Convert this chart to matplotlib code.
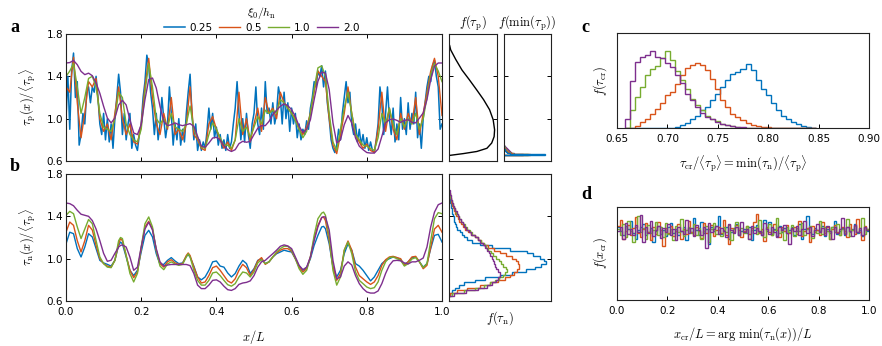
import numpy as np
import matplotlib
matplotlib.use("Agg")
import matplotlib.pyplot as plt

plt.rcParams["mathtext.fontset"] = "cm"
plt.rcParams["font.family"] = "DejaVu Sans"
plt.rcParams["font.size"] = 7.5

colors = ["#0072BD", "#D95319", "#77AC30", "#7E2F8E"]
xi_labels = ["0.25", "0.5", "1.0", "2.0"]

# ---- panel a: tau_p(x)/<tau_p>
x_a_fine = np.linspace(0, 1, 201)
x_a = np.linspace(0, 1, 101)
a_blue = [1.00, 1.40, 0.90, 1.45, 1.62, 1.20, 1.35, 0.75, 0.85, 1.05,
          0.95, 1.25, 1.30, 1.15, 1.30, 1.25, 1.40, 1.20, 0.95, 0.85,
          1.05, 0.80, 1.00, 0.78, 0.95, 0.72, 1.00, 1.20, 1.42, 1.25,
          0.85, 1.05, 0.80, 0.95, 1.05, 0.72, 0.85, 0.75, 0.70, 0.85,
          0.95, 1.20, 1.35, 1.60, 1.50, 1.25, 1.10, 0.85, 1.05, 0.80,
          0.95, 1.20, 1.00, 0.82, 0.95, 1.30, 1.05, 0.75, 0.95, 0.80,
          1.00, 0.75, 0.90, 0.78, 1.05, 1.25, 1.42, 1.05, 0.80, 0.95,
          0.70, 0.80, 0.70, 0.78, 0.72, 0.88, 1.10, 0.90, 1.05, 0.82,
          0.92, 0.75, 0.85, 0.72, 0.80, 0.70, 0.85, 0.72, 0.78, 0.95,
          1.10, 1.35, 1.05, 0.80, 1.00, 0.78, 1.05, 0.85, 0.72, 0.95,
          1.05, 1.30, 0.95, 0.85, 1.10, 0.90, 1.35, 1.05, 1.10, 0.95,
          1.15, 0.95, 1.05, 1.30, 1.20, 0.95, 1.25, 1.00, 1.15, 0.88,
          1.10, 0.95, 1.05, 0.82, 0.95, 0.80, 0.90, 0.85, 0.98, 0.90,
          1.10, 1.20, 1.35, 1.30, 1.45, 1.40, 1.50, 1.30, 1.45, 1.15,
          1.00, 0.80, 0.72, 0.68, 0.75, 0.90, 0.80, 1.05, 1.20, 1.35,
          1.15, 1.25, 0.95, 0.85, 0.95, 0.78, 0.90, 0.75, 0.85, 0.72,
          0.82, 0.70, 0.78, 0.70, 0.68, 0.80, 0.95, 1.30, 1.15, 0.85,
          1.05, 1.30, 1.00, 0.85, 1.10, 0.78, 0.95, 0.80, 1.20, 0.90,
          1.00, 0.85, 1.15, 0.90, 1.05, 0.95, 1.25, 0.82, 0.95, 0.72,
          1.00, 1.15, 1.30, 1.40, 1.35, 1.50, 1.55, 1.40, 1.30, 0.90,
          0.95]
a_orange = [1.30, 1.25, 1.58, 1.15, 0.82, 1.05, 1.35, 1.30, 1.38, 1.00,
            0.88, 0.95, 0.80, 1.05, 1.30, 1.00, 0.85, 0.95, 0.78, 0.76,
            0.95, 1.30, 1.57, 1.20, 0.95, 0.85, 1.05, 0.90, 1.20, 0.85,
            0.90, 0.80, 0.95, 1.30, 0.85, 0.80, 0.72, 0.70, 0.95, 1.02,
            0.90, 0.80, 0.72, 0.78, 0.70, 0.80, 1.25, 0.85, 1.00, 0.78,
            0.95, 1.10, 0.88, 1.20, 1.05, 1.10, 1.00, 1.25, 1.15, 1.10,
            1.05, 1.00, 0.90, 0.85, 0.92, 1.05, 1.25, 1.45, 1.40, 1.35,
            1.00, 0.75, 0.67, 0.85, 1.05, 1.30, 1.05, 0.85, 0.78, 0.72,
            0.76, 0.70, 0.68, 0.90, 1.25, 0.88, 1.10, 0.90, 0.80, 1.05,
            0.90, 1.05, 0.95, 1.20, 0.85, 1.05, 1.25, 1.45, 1.57, 1.40,
            1.03]
a_green = [1.40, 1.45, 1.52, 1.30, 1.05, 1.20, 1.38, 1.40, 1.30, 1.05,
           0.92, 0.90, 0.88, 1.00, 1.25, 1.20, 0.95, 0.85, 0.80, 0.78,
           0.90, 1.25, 1.52, 1.30, 1.00, 0.95, 1.00, 0.92, 1.05, 0.92,
           0.90, 0.88, 0.95, 1.12, 0.90, 0.82, 0.73, 0.72, 0.85, 0.96,
           0.90, 0.82, 0.75, 0.75, 0.72, 0.80, 1.00, 0.88, 0.92, 0.82,
           0.92, 1.02, 0.95, 1.08, 1.05, 1.08, 1.05, 1.18, 1.15, 1.10,
           1.05, 0.98, 0.90, 0.82, 0.88, 1.05, 1.28, 1.48, 1.50, 1.40,
           1.05, 0.78, 0.70, 0.90, 1.10, 1.25, 1.05, 0.85, 0.80, 0.75,
           0.74, 0.72, 0.70, 0.82, 1.05, 0.95, 1.10, 0.95, 0.85, 1.00,
           0.92, 1.00, 0.95, 1.05, 0.90, 1.00, 1.20, 1.42, 1.52, 1.45,
           1.35]
a_purple = [1.526, 1.53, 1.55, 1.51, 1.447, 1.416, 1.43, 1.406, 1.337, 1.24,
            1.117, 1.006, 0.96, 1.006, 1.13, 1.173, 1.13, 0.99, 0.865, 0.85,
            0.943, 1.18, 1.37, 1.384, 1.29, 1.117, 0.975, 0.934, 0.943, 0.96,
            0.943, 0.934, 0.943, 0.953, 0.928, 0.833, 0.74, 0.73, 0.77, 0.817,
            0.824, 0.80, 0.745, 0.707, 0.69, 0.707, 0.764, 0.786, 0.777, 0.786,
            0.85, 0.91, 0.934, 0.934, 0.975, 1.04, 1.08, 1.117, 1.14, 1.123,
            1.085, 1.02, 0.928, 0.87, 0.90, 0.99, 1.18, 1.353, 1.44, 1.43,
            1.274, 0.96, 0.77, 0.80, 0.943, 1.03, 0.96, 0.817, 0.74, 0.707,
            0.68, 0.675, 0.675, 0.713, 0.833, 0.96, 0.99, 0.997, 0.984, 0.965,
            0.984, 0.99, 0.965, 0.96, 1.006, 1.054, 1.18, 1.37, 1.495, 1.526,
            1.526]

# ---- panel b: tau_n(x)/<tau_p>
x_b = np.sort(np.r_[np.linspace(0, 1, 101), 0.145, 0.325, 0.685])
b_blue = [1.14, 1.25, 1.236, 1.095, 1.016, 1.11, 1.236, 1.205, 1.095, 0.984,
          0.96, 0.946, 0.93, 0.984, 1.126, 1.157, 1.14, 1.016, 0.89, 0.84, 0.89,
          1.063, 1.22, 1.268, 1.205, 1.047, 0.946, 0.946, 0.984, 1.01, 0.978,
          0.953, 0.96, 1.022, 1.038, 1.016, 0.93, 0.827, 0.80, 0.827, 0.89, 0.97,
          0.978, 0.93, 0.92, 0.865, 0.827, 0.86, 0.93, 0.984, 0.953, 0.86,
          0.905, 0.984, 1.0, 0.953, 0.97, 1.016, 1.047, 1.063, 1.08, 1.07,
          1.063, 1.0, 0.93, 0.89, 0.915, 1.0, 1.126, 1.22, 1.30, 1.305, 1.283,
          1.14, 0.92, 0.827, 0.89, 1.047, 1.14, 1.08, 0.953, 0.93, 0.89,
          0.84, 0.79, 0.827, 0.89, 0.953, 0.984, 1.0, 1.016, 1.01, 0.99,
          0.946, 0.97, 1.01, 1.016, 0.97, 0.92, 0.953, 1.095, 1.22, 1.23, 1.157]
b_orange = [1.25, 1.346, 1.315, 1.17, 1.063, 1.17, 1.315, 1.27, 1.126, 1.0,
            0.953, 0.93, 0.92, 0.984, 1.14, 1.19, 1.17, 1.03, 0.89, 0.82, 0.874,
            1.095, 1.30, 1.353, 1.283, 1.08, 0.953, 0.92, 0.97, 0.99, 0.96,
            0.946, 0.953, 1.03, 1.054, 1.03, 0.92, 0.827, 0.77, 0.78, 0.84, 0.915,
            0.93, 0.89, 0.84, 0.79, 0.77, 0.81, 0.89, 0.946, 0.915, 0.84,
            0.896, 0.978, 1.01, 0.946, 0.97, 1.016, 1.054, 1.08, 1.095, 1.095,
            1.07, 1.0, 0.92, 0.874, 0.905, 1.016, 1.19, 1.315, 1.387, 1.394, 1.36,
            1.17, 0.92, 0.795, 0.86, 1.08, 1.167, 1.08, 0.92, 0.84, 0.81,
            0.78, 0.757, 0.78, 0.84, 0.937, 0.99, 1.016, 1.022, 1.01, 1.0,
            0.937, 0.97, 1.016, 1.022, 0.97, 0.905, 0.937, 1.11, 1.28, 1.315, 1.25]
b_green = [1.41, 1.447, 1.425, 1.30, 1.19, 1.28, 1.37, 1.33, 1.17, 1.016,
           0.953, 0.92, 0.915, 0.984, 1.17, 1.20, 1.19, 1.03, 0.86, 0.78, 0.86,
           1.11, 1.33, 1.394, 1.30, 1.08, 0.93, 0.896, 0.95, 0.97, 0.95,
           0.937, 0.946, 1.016, 1.047, 1.016, 0.89, 0.795, 0.75, 0.75, 0.795, 0.865,
           0.874, 0.84, 0.795, 0.754, 0.74, 0.764, 0.827, 0.874, 0.865, 0.827,
           0.874, 0.96, 0.99, 0.953, 0.97, 1.016, 1.063, 1.095, 1.117, 1.117,
           1.08, 1.0, 0.905, 0.852, 0.89, 1.016, 1.22, 1.378, 1.43, 1.44, 1.41,
           1.205, 0.89, 0.75, 0.827, 1.08, 1.157, 1.047, 0.874, 0.795, 0.764,
           0.732, 0.717, 0.726, 0.78, 0.89, 0.97, 1.01, 1.016, 1.0, 0.984,
           0.93, 0.953, 0.997, 1.01, 0.97, 0.915, 0.953, 1.17, 1.378, 1.435, 1.425]
b_purple = [1.526, 1.52, 1.50, 1.457, 1.42, 1.41, 1.40, 1.36, 1.28, 1.17,
            1.05, 0.975, 0.985, 1.05, 1.11, 1.125, 1.13, 1.11, 1.015, 0.89, 0.92,
            1.11, 1.28, 1.345, 1.27, 1.095, 0.97, 0.93, 0.94, 0.945, 0.945,
            0.945, 0.945, 0.945, 0.94, 0.934, 0.86, 0.75, 0.717, 0.717, 0.75, 0.795,
            0.80, 0.78, 0.74, 0.707, 0.70, 0.717, 0.757, 0.77, 0.776, 0.79,
            0.84, 0.92, 0.97, 0.984, 1.016, 1.047, 1.08, 1.117, 1.13, 1.12,
            1.095, 1.016, 0.937, 0.896, 0.92, 1.016, 1.17, 1.30, 1.39, 1.395, 1.394,
            1.27, 0.984, 0.81, 0.827, 0.93, 0.97, 0.94, 0.84, 0.764, 0.717,
            0.685, 0.675, 0.675, 0.695, 0.764, 0.86, 0.937, 0.98, 0.984, 0.98,
            0.96, 0.95, 0.97, 0.97, 0.985, 1.006, 1.11, 1.30, 1.44, 1.51, 1.526]

# ---- marginal: f(tau_p)
ftp_tau = [0.653, 0.67, 0.69, 0.72, 0.77, 0.83, 0.895, 0.99, 1.085, 1.18,
           1.27, 1.37, 1.46, 1.56, 1.65, 1.69]
ftp_f = [0.014, 0.30, 0.58, 0.79, 0.89, 0.94, 0.95, 0.92, 0.845, 0.72,
         0.58, 0.42, 0.27, 0.14, 0.035, 0.014]

# ---- marginal: f(min(tau_p))
fmin_edges = np.arange(0.655, 0.7551, 0.01)
fmin_blue = [0.87, 0.12, 0.06, 0.04, 0.03, 0.02, 0.01, 0.005, 0.0, 0.0]
fmin_orange = [0.55, 0.18, 0.10, 0.07, 0.05, 0.03, 0.02, 0.01, 0.005, 0.0]
fmin_green = [0.50, 0.20, 0.12, 0.09, 0.07, 0.05, 0.03, 0.02, 0.01, 0.0]
fmin_purple = [0.40, 0.22, 0.15, 0.12, 0.10, 0.08, 0.06, 0.04, 0.02, 0.01]

# ---- marginal: f(tau_n)
ftn_edges = np.arange(0.65, 1.6501, 0.025)
ftn_blue = [0.01, 0.03, 0.06, 0.10, 0.15, 0.25, 0.35, 0.50, 0.62, 0.75,
            0.84, 0.90, 0.95, 0.93, 0.89, 0.82, 0.76, 0.60, 0.42, 0.30,
            0.23, 0.18, 0.15, 0.13, 0.11, 0.08, 0.07, 0.06, 0.05, 0.045,
            0.04, 0.03, 0.025, 0.02, 0.015, 0.01, 0.008, 0.005, 0.003, 0.001]
ftn_orange = [0.01, 0.08, 0.18, 0.30, 0.40, 0.48, 0.55, 0.60, 0.64, 0.67,
              0.69, 0.69, 0.68, 0.66, 0.62, 0.56, 0.50, 0.44, 0.38, 0.34,
              0.31, 0.28, 0.25, 0.22, 0.19, 0.16, 0.14, 0.12, 0.10, 0.085,
              0.07, 0.06, 0.05, 0.04, 0.03, 0.02, 0.015, 0.01, 0.005, 0.002]
ftn_green = [0.03, 0.15, 0.25, 0.34, 0.40, 0.45, 0.49, 0.53, 0.55, 0.57,
             0.56, 0.53, 0.51, 0.49, 0.46, 0.43, 0.41, 0.38, 0.36, 0.34,
             0.31, 0.28, 0.25, 0.23, 0.21, 0.18, 0.16, 0.14, 0.12, 0.10,
             0.09, 0.07, 0.06, 0.05, 0.04, 0.03, 0.02, 0.01, 0.005, 0.002]
ftn_purple = [0.05, 0.17, 0.28, 0.37, 0.42, 0.46, 0.48, 0.50, 0.50, 0.48,
              0.46, 0.45, 0.44, 0.43, 0.42, 0.40, 0.39, 0.37, 0.35, 0.33,
              0.30, 0.28, 0.25, 0.22, 0.20, 0.17, 0.15, 0.14, 0.12, 0.10,
              0.09, 0.08, 0.06, 0.05, 0.04, 0.03, 0.02, 0.015, 0.01, 0.005]

# ---- panel c: f(tau_cr)
c_edges = np.arange(0.6575, 0.8476, 0.005)
c_blue = [0, 0, 0, 0, 0, 0, 0, 0, 0.003, 0.005,
          0.01, 0.03, 0.05, 0.10, 0.13, 0.19, 0.22, 0.29, 0.36, 0.43,
          0.51, 0.57, 0.59, 0.62, 0.67, 0.61, 0.51, 0.41, 0.35, 0.26,
          0.19, 0.13, 0.10, 0.06, 0.04, 0.02, 0.01, 0.003]
c_orange = [0, 0.005, 0.02, 0.06, 0.10, 0.15, 0.20, 0.26, 0.35, 0.38,
            0.46, 0.56, 0.63, 0.66, 0.68, 0.66, 0.61, 0.52, 0.41, 0.30,
            0.22, 0.15, 0.12, 0.08, 0.05, 0.03, 0.02, 0.015, 0.01, 0.005,
            0, 0, 0, 0, 0, 0, 0, 0]
c_green = [0.0, 0.19, 0.33, 0.43, 0.56, 0.62, 0.65, 0.74, 0.81, 0.72,
           0.60, 0.51, 0.41, 0.31, 0.24, 0.19, 0.13, 0.10, 0.07, 0.04,
           0.03, 0.02, 0.01, 0.005, 0.003, 0, 0, 0, 0, 0,
           0, 0, 0, 0, 0, 0, 0, 0]
c_purple = [0.10, 0.50, 0.70, 0.75, 0.77, 0.81, 0.75, 0.74, 0.68, 0.64,
            0.56, 0.47, 0.36, 0.30, 0.22, 0.16, 0.12, 0.09, 0.06, 0.04,
            0.03, 0.02, 0.01, 0.008, 0.005, 0, 0, 0, 0, 0,
            0, 0, 0, 0, 0, 0, 0, 0]

# ---- panel d: f(x_cr)
d_edges = np.linspace(0, 1, 101)
d_blue = [0.78, 0.74, 0.70, 0.80, 0.76, 0.85, 0.72, 0.66, 0.75, 0.79,
          0.82, 0.70, 0.73, 0.77, 0.62, 0.74, 0.80, 0.71, 0.75, 0.69,
          0.78, 0.83, 0.72, 0.76, 0.70, 0.74, 0.79, 0.64, 0.77, 0.73,
          0.88, 0.75, 0.70, 0.84, 0.72, 0.76, 0.60, 0.78, 0.74, 0.80,
          0.90, 0.71, 0.75, 0.79, 0.66, 0.73, 0.77, 0.82, 0.70, 0.74,
          0.76, 0.72, 0.79, 0.64, 0.75, 0.81, 0.73, 0.70, 0.86, 0.74,
          0.84, 0.71, 0.76, 0.69, 0.80, 0.73, 0.77, 0.72, 0.75, 0.78,
          0.70, 0.74, 0.82, 0.66, 0.76, 0.90, 0.73, 0.71, 0.77, 0.75,
          0.74, 0.80, 0.69, 0.76, 0.72, 0.78, 0.85, 0.71, 0.74, 0.77,
          0.70, 0.79, 0.73, 0.76, 0.82, 0.72, 0.75, 0.69, 0.78, 0.74]
d_orange = [0.80, 0.86, 0.66, 0.74, 0.81, 0.70, 0.77, 0.89, 0.72, 0.68,
            0.76, 0.83, 0.73, 0.64, 0.79, 0.71, 0.84, 0.75, 0.58, 0.77,
            0.72, 0.80, 0.69, 0.74, 0.82, 0.66, 0.76, 0.71, 0.85, 0.73,
            0.70, 0.78, 0.74, 0.67, 0.83, 0.72, 0.76, 0.81, 0.69, 0.75,
            0.79, 0.72, 0.86, 0.70, 0.60, 0.77, 0.73, 0.81, 0.75, 0.68,
            0.74, 0.80, 0.71, 0.77, 0.84, 0.92, 0.72, 0.76, 0.63, 0.79,
            0.73, 0.70, 0.82, 0.75, 0.68, 0.78, 0.74, 0.81, 0.72, 0.76,
            0.79, 0.71, 0.85, 0.69, 0.74, 0.77, 0.62, 0.80, 0.73, 0.75,
            0.70, 0.84, 0.72, 0.78, 0.66, 0.76, 0.81, 0.73, 0.70, 0.79,
            0.74, 0.68, 0.82, 0.75, 0.71, 0.87, 0.73, 0.64, 0.80, 0.76]
d_green = [0.76, 0.70, 0.82, 0.68, 0.85, 0.74, 0.62, 0.79, 0.90, 0.73,
           0.77, 0.66, 0.81, 0.72, 0.75, 0.84, 0.70, 0.78, 0.68, 0.83,
           0.71, 0.76, 0.64, 0.80, 0.73, 0.87, 0.69, 0.75, 0.79, 0.72,
           0.82, 0.70, 0.77, 0.66, 0.74, 0.80, 0.62, 0.76, 0.83, 0.71,
           0.75, 0.69, 0.78, 0.73, 0.81, 0.65, 0.76, 0.84, 0.70, 0.77,
           0.72, 0.80, 0.66, 0.75, 0.79, 0.71, 0.86, 0.73, 0.68, 0.77,
           0.82, 0.70, 0.75, 0.88, 0.72, 0.76, 0.64, 0.79, 0.73, 0.81,
           0.69, 0.77, 0.74, 0.83, 0.70, 0.76, 0.80, 0.67, 0.75, 0.72,
           0.85, 0.71, 0.78, 0.74, 0.66, 0.79, 0.73, 0.82, 0.70, 0.76,
           0.72, 0.87, 0.69, 0.75, 0.80, 0.73, 0.77, 0.88, 0.71, 0.76]
d_purple = [0.74, 0.79, 0.66, 0.83, 0.71, 0.76, 0.70, 0.81, 0.73, 0.91,
            0.62, 0.78, 0.72, 0.85, 0.69, 0.75, 0.80, 0.67, 0.77, 0.73,
            0.82, 0.70, 0.76, 0.64, 0.79, 0.74, 0.71, 0.86, 0.72, 0.77,
            0.69, 0.81, 0.75, 0.70, 0.78, 0.56, 0.83, 0.73, 0.76, 0.80,
            0.71, 0.77, 0.74, 0.68, 0.82, 0.75, 0.72, 0.79, 0.70, 0.84,
            0.73, 0.76, 0.66, 0.80, 0.72, 0.77, 0.74, 0.70, 0.83, 0.76,
            0.71, 0.79, 0.73, 0.68, 0.78, 0.75, 0.81, 0.72, 0.60, 0.77,
            0.74, 0.80, 0.70, 0.76, 0.85, 0.72, 0.78, 0.69, 0.75, 0.82,
            0.73, 0.77, 0.70, 0.80, 0.74, 0.66, 0.79, 0.72, 0.76, 0.88,
            0.71, 0.78, 0.74, 0.69, 0.81, 0.73, 0.77, 0.70, 0.79, 0.75]

fig = plt.figure(figsize=(8.82, 3.46), dpi=100)
W, H = 882.0, 346.0


def box(x0, y0, x1, y1):
    return [x0 / W, 1 - y1 / H, (x1 - x0) / W, (y1 - y0) / H]


ax_a = fig.add_axes(box(66, 34, 442, 161))
ax_b = fig.add_axes(box(66, 174, 442, 301))
ax_tp = fig.add_axes(box(449, 34, 497, 161))
ax_mn = fig.add_axes(box(504, 34, 551, 161))
ax_tn = fig.add_axes(box(449, 174, 551, 301))
ax_c = fig.add_axes(box(617, 33, 869, 128))
ax_d = fig.add_axes(box(617, 207, 869, 300))

for ax in [ax_a, ax_b, ax_tp, ax_mn, ax_tn, ax_c, ax_d]:
    for s in ax.spines.values():
        s.set_linewidth(0.8)
        s.set_color("#222222")
    ax.tick_params(direction="in", length=3, width=0.7, labelsize=7.5, pad=2)
    ax.tick_params(axis="x", pad=4)

# panel a
ax_a.plot(x_a_fine, a_blue, color=colors[0], lw=1.1, label=xi_labels[0])
ax_a.plot(x_a, a_orange, color=colors[1], lw=1.0, label=xi_labels[1])
ax_a.plot(x_a, a_green, color=colors[2], lw=1.0, label=xi_labels[2])
ax_a.plot(x_a, a_purple, color=colors[3], lw=1.0, label=xi_labels[3])
leg = ax_a.legend(ncol=4, loc="lower center", bbox_to_anchor=(0.52, 0.96),
                  frameon=False, title=r"$\xi_0/h_\mathrm{n}$", fontsize=7.5,
                  title_fontsize=8.5, handlelength=2.0, handletextpad=0.5,
                  columnspacing=0.6, borderpad=0.1, labelspacing=0.2)

# panel b
for vals, c in zip([b_blue, b_orange, b_green, b_purple], colors):
    ax_b.plot(x_b, vals, color=c, lw=1.0)

for ax in [ax_a, ax_b]:
    ax.set_xlim(0, 1)
    ax.set_ylim(0.6, 1.8)
    ax.set_yticks([0.6, 1.0, 1.4, 1.8])
    ax.set_yticklabels(["0.6", "1.0", "1.4", "1.8"])
    ax.set_xticks([0, 0.2, 0.4, 0.6, 0.8, 1.0])
    ax.tick_params(top=True, right=True)
ax_a.set_xticklabels([])
ax_b.set_xticklabels(["0.0", "0.2", "0.4", "0.6", "0.8", "1.0"])
ax_a.set_ylabel(r"$\tau_\mathrm{p}(x)/\langle\tau_\mathrm{p}\rangle$", fontsize=9, labelpad=6)
ax_b.set_ylabel(r"$\tau_\mathrm{n}(x)/\langle\tau_\mathrm{p}\rangle$", fontsize=9, labelpad=6)
ax_b.set_xlabel(r"$x/L$", fontsize=9, labelpad=8)

# marginals
ax_tp.plot(ftp_f, ftp_tau, color="k", lw=1.0)
ax_mn.stairs(fmin_purple, fmin_edges, orientation="horizontal", color=colors[3], lw=1.0)
ax_mn.stairs(fmin_green, fmin_edges, orientation="horizontal", color=colors[2], lw=1.0)
ax_mn.stairs(fmin_orange, fmin_edges, orientation="horizontal", color=colors[1], lw=1.0)
ax_mn.stairs(fmin_blue, fmin_edges, orientation="horizontal", color=colors[0], lw=1.0)
for vals, c in zip([ftn_blue, ftn_orange, ftn_green, ftn_purple], colors):
    ax_tn.stairs(vals, ftn_edges, orientation="horizontal", color=c, lw=1.0)

for ax in [ax_tp, ax_mn, ax_tn]:
    ax.set_xlim(0, 1.0)
    ax.set_ylim(0.6, 1.8)
    ax.set_xticks([])
    ax.set_yticks([0.6, 1.0, 1.4, 1.8])
    ax.tick_params(left=True, right=True, labelleft=False)
ax_tp.set_title(r"$f(\tau_\mathrm{p})$", fontsize=9, pad=5)
ax_mn.set_title(r"$f(\min(\tau_\mathrm{p}))$", fontsize=9, pad=5)
ax_tn.set_xlabel(r"$f(\tau_\mathrm{n})$", fontsize=9, labelpad=6)

# panel c
for vals, c in zip([c_blue, c_orange, c_green, c_purple], colors):
    ax_c.stairs(vals, c_edges, color=c, lw=1.0)
ax_c.set_xlim(0.65, 0.90)
ax_c.set_ylim(0, 1.0)
ax_c.set_xticks([0.65, 0.70, 0.75, 0.80, 0.85, 0.90])
ax_c.set_xticklabels(["0.65", "0.70", "0.75", "0.80", "0.85", "0.90"])
ax_c.set_yticks([])
ax_c.set_ylabel(r"$f(\tau_\mathrm{cr})$", fontsize=9, labelpad=6)
ax_c.set_xlabel(r"$\tau_\mathrm{cr}/\langle\tau_\mathrm{p}\rangle = \min(\tau_\mathrm{n})/\langle\tau_\mathrm{p}\rangle$",
                fontsize=9, labelpad=7)

# panel d
for vals, c in zip([d_blue, d_orange, d_green, d_purple], colors):
    ax_d.stairs(vals, d_edges, color=c, lw=1.0, baseline=None)
ax_d.set_xlim(0, 1)
ax_d.set_ylim(0, 1.0)
ax_d.set_xticks([0, 0.2, 0.4, 0.6, 0.8, 1.0])
ax_d.set_xticklabels(["0.0", "0.2", "0.4", "0.6", "0.8", "1.0"])
ax_d.set_yticks([])
ax_d.set_ylabel(r"$f(x_\mathrm{cr})$", fontsize=9, labelpad=6)
ax_d.set_xlabel(r"$x_\mathrm{cr}/L = \arg\,\min(\tau_\mathrm{n}(x))/L$", fontsize=9, labelpad=7)

# panel letters
for lab, px, py in [("a", 10, 32), ("b", 10, 171), ("c", 581, 32), ("d", 581, 199)]:
    fig.text(px / W, 1 - py / H, lab, fontsize=13, fontweight="bold",
             family="Liberation Serif", ha="left", va="baseline")

fig.savefig("out.png", dpi=100)
